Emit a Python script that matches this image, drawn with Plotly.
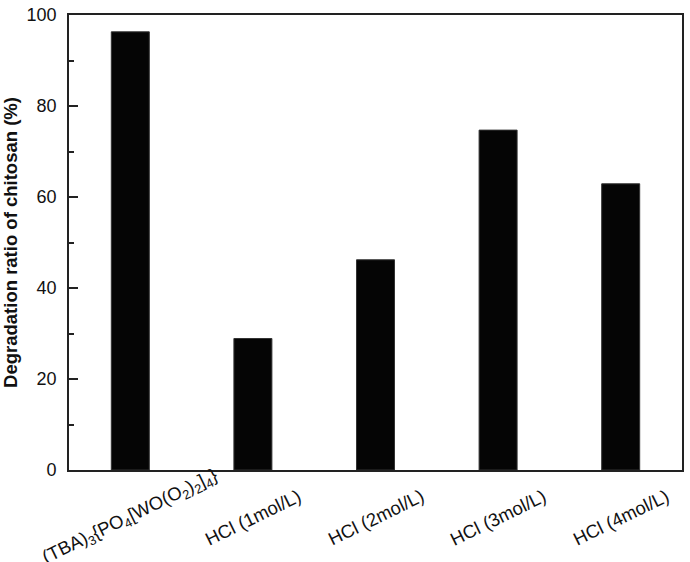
import plotly.graph_objects as go

categories = ["(TBA)<sub>3</sub>{PO<sub>4</sub>[WO(O<sub>2</sub>)<sub>2</sub>]<sub>4</sub>}",
              "HCl (1mol/L)", "HCl (2mol/L)", "HCl (3mol/L)", "HCl (4mol/L)"]
values = [96.3, 28.9, 46.2, 74.7, 62.9]
y_ticks = [0, 20, 40, 60, 80, 100]

xpos = list(range(len(categories)))

fig = go.Figure(go.Bar(
    x=xpos, y=values, width=0.31,
    marker=dict(color="#050505", line=dict(color="#333", width=1)),
))

for i, lab in zip(xpos, categories):
    fig.add_annotation(
        x=i, xref="x", y=0, yref="paper", yshift=-47,
        text=lab, textangle=-26, showarrow=False,
        xanchor="center", yanchor="middle",
        font=dict(family="Liberation Sans, Arial, sans-serif", size=18.5, color="#111"),
    )

fig.update_layout(
    width=690, height=562,
    margin=dict(l=69, r=8, t=15, b=92),
    paper_bgcolor="white", plot_bgcolor="white",
    font=dict(family="Liberation Sans, Arial, sans-serif", color="#111", size=18),
    showlegend=False,
)
fig.update_xaxes(
    range=[-0.5, 4.5], showticklabels=False, ticks="", showgrid=False,
    showline=True, linecolor="#222", linewidth=1.7, mirror=True, automargin=False,
)
fig.update_yaxes(
    range=[0, 100], tickmode="array", tickvals=y_ticks, ticks="inside",
    ticklen=9, tickwidth=1.7, tickcolor="#222", showgrid=False, zeroline=False,
    showline=True, linecolor="#222", linewidth=1.7, mirror=True, automargin=False,
    ticklabelstandoff=7,
    minor=dict(dtick=10, tick0=0, ticks="inside", ticklen=5, tickwidth=1.7, tickcolor="#222"),
    title=dict(text="<b>Degradation ratio of chitosan (%)</b>", font=dict(size=18.5), standoff=5),
)
fig.write_html("out.html", config={"displayModeBar": False},
               post_script="document.body.style.margin='0';")
